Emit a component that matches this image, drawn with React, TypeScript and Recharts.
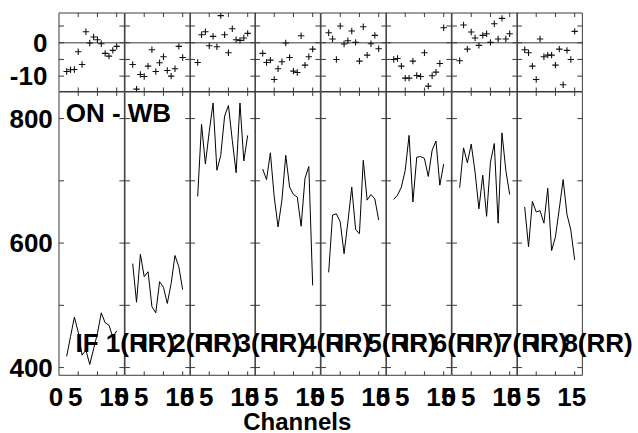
import { ComposedChart, Line, Scatter, XAxis, YAxis, ReferenceLine } from "recharts"

// channel numbers shared by every IF
const channels = [2, 3, 4, 5, 6, 7, 8, 9, 10, 11, 12, 13, 14, 15]

const ifNames = ["IF 1(RR)", "IF 2(RR)", "IF 3(RR)", "IF 4(RR)", "IF 5(RR)", "IF 6(RR)", "IF 7(RR)", "IF 8(RR)"]

// ON - WB spectra (lower panels)
const specIF1 = [418, 450, 481, 457, 420, 428, 405, 430, 455, 488, 472, 468, 449, 459]
const specIF2 = [567, 505, 582, 546, 554, 498, 488, 538, 529, 503, 535, 580, 562, 525]
const specIF3 = [675, 791, 727, 779, 825, 717, 741, 804, 821, 765, 713, 825, 732, 773]
const specIF4 = [719, 702, 745, 674, 626, 669, 741, 690, 678, 674, 627, 704, 723, 532]
const specIF5 = [553, 645, 647, 634, 583, 634, 690, 622, 615, 733, 669, 678, 671, 637]
const specIF6 = [670, 677, 690, 717, 773, 666, 738, 739, 736, 707, 749, 764, 693, 727]
const specIF7 = [689, 753, 729, 759, 714, 655, 709, 643, 730, 760, 632, 777, 717, 678]
const specIF8 = [658, 594, 667, 650, 652, 632, 688, 588, 610, 655, 702, 646, 621, 573]

// residuals (upper panels)
const residIF1 = [-8.6, -8.1, -8.0, -2.7, -6.5, 3.3, -0.1, 1.7, 0.9, -0.3, -3.2, -4.0, -2.3, -1.1]
const residIF2 = [-6.5, -13.9, -9.5, -10.1, -7.0, -2.1, -8.6, -6.0, -4.2, -8.3, -10.0, -7.8, -1.1, -4.4]
const residIF3 = [-5.9, 2.4, 3.3, -0.9, 1.9, -1.2, 8.1, 2.4, -3.0, 4.2, 0.9, 0.7, 1.4, 2.8]
const residIF4 = [-3.2, -5.9, -5.2, -11.0, -7.8, -5.7, -0.1, -4.4, -8.5, -8.9, 2.1, -6.7, -4.2, -1.9]
const residIF5 = [3.0, 1.1, -5.0, 5.0, -0.4, 0.6, 3.5, 0.1, -5.5, 4.8, -3.7, -0.3, 2.2, -1.8]
const residIF6 = [-5.0, -4.7, -7.0, -10.6, -10.6, -5.5, -9.8, -10.1, -3.0, -13.0, -9.9, -8.8, -6.2, 4.5]
const residIF7 = [-5.4, 5.3, -1.9, 3.2, 1.4, -0.8, 2.2, 2.7, 0.1, 5.7, 1.1, 7.3, 1.1, 2.7]
const residIF8 = [-2.1, -3.0, -7.0, -11.0, 1.1, -4.2, -3.7, -3.7, -6.7, -1.9, -12.6, -2.3, -5.0, 3.4]

const spectra = [specIF1, specIF2, specIF3, specIF4, specIF5, specIF6, specIF7, specIF8]
const residuals = [residIF1, residIF2, residIF3, residIF4, residIF5, residIF6, residIF7, residIF8]

const xTicks = [0, 5, 10, 15]
const xTickLabels = ["0", "5", "", "15"]
const specTicks = [400, 500, 600, 700, 800]
const specTickLabels = ["400", "", "600", "", "800"]
const residTicks = [-10, -5, 0, 5]
const residTickLabels = ["-10", "", "0", ""]

const xDomain = [0, 17]
const specDomain = [387.6, 842.7]
const residDomain = [-14.6, 8.9]

// layout
const PLOT_LEFT = 59.3
const PANEL_W = 65.37
const TOP_Y = 13.2
const MID_Y = 91.7
const BOT_Y = 375
const PAD = 60

const FONT = "'Liberation Sans', Arial, Helvetica, sans-serif"
const FRAME = "#3a3a3a"
const labelStyle = { fontFamily: FONT, fontWeight: 700, fontSize: 26, fill: "#000" }

const xTick = (side: "top" | "bottom", withLabels: boolean) => (p: any) => {
  const { x, y, payload } = p
  const v = payload.value
  const dir = side === "bottom" ? -1 : 1
  const label = withLabels ? xTickLabels[xTicks.indexOf(v)] : ""
  return (
    <g>
      {v !== 0 && <line x1={x} x2={x} y1={y} y2={y + dir * 4} stroke={FRAME} />}
      {label && (
        <text x={x - 3} y={y + 30.7} textAnchor="middle" fontWeight="bold" style={labelStyle}>
          {label}
        </text>
      )}
    </g>
  )
}

const yTick = (side: "left" | "right", ticks: number[], labels: string[] | null, gap: number) => (p: any) => {
  const { x, y, payload } = p
  const dir = side === "left" ? 1 : -1
  const label = labels ? labels[ticks.indexOf(payload.value)] : ""
  return (
    <g>
      <line x1={x} x2={x + dir * 5} y1={y} y2={y} stroke={FRAME} />
      {label && (
        <text x={x - gap} y={y} dy="0.36em" textAnchor="end" fontWeight="bold" style={labelStyle}>
          {label}
        </text>
      )}
    </g>
  )
}

const plus = (p: any) => (
  <path
    d={`M${p.cx - 3.2},${p.cy}h6.4M${p.cx},${p.cy - 3.2}v6.4`}
    stroke="#111"
    strokeWidth={1.1}
    fill="none"
  />
)

const frame = { stroke: FRAME, strokeWidth: 1 }

// axes need a non-zero size to be drawn; 1px each, taken out of the margins
function frameAxes(i: number, ticks: number[], labels: string[], domain: number[], gap: number, showX: boolean) {
  return [
    <XAxis
      key="xb"
      xAxisId="b"
      dataKey="ch"
      type="number"
      domain={xDomain}
      allowDataOverflow
      ticks={xTicks}
      interval={0}
      height={1}
      tickSize={0}
      tickMargin={0}
      axisLine={frame}
      tickLine={false}
      tick={xTick("bottom", showX)}
    />,
    <XAxis
      key="xt"
      xAxisId="t"
      orientation="top"
      dataKey="ch"
      type="number"
      domain={xDomain}
      allowDataOverflow
      ticks={xTicks}
      interval={0}
      height={1}
      tickSize={0}
      tickMargin={0}
      axisLine={frame}
      tickLine={false}
      tick={xTick("top", false)}
    />,
    <YAxis
      key="yl"
      yAxisId="l"
      dataKey="v"
      type="number"
      domain={domain}
      allowDataOverflow
      ticks={ticks}
      interval={0}
      width={1}
      tickSize={0}
      tickMargin={0}
      axisLine={frame}
      tickLine={false}
      tick={yTick("left", ticks, i === 0 ? labels : null, gap)}
    />,
    <YAxis
      key="yr"
      yAxisId="r"
      orientation="right"
      type="number"
      domain={domain}
      allowDataOverflow
      ticks={ticks}
      interval={0}
      width={1}
      tickSize={0}
      tickMargin={0}
      axisLine={frame}
      tickLine={false}
      tick={yTick("right", ticks, null, 0)}
    />,
  ]
}

function ResidualPanel({ i }: { i: number }) {
  const data = channels.map((ch, j) => ({ ch, v: residuals[i][j] }))
  const h = MID_Y - TOP_Y
  return (
    <div style={{ position: "absolute", left: PLOT_LEFT + i * PANEL_W - PAD, top: TOP_Y - 5 }}>
      <ComposedChart
        width={PANEL_W + 2 * PAD}
        height={h + 10}
        data={data}
        margin={{ top: 4, right: PAD - 1, bottom: 4, left: PAD - 1 }}
      >
        {frameAxes(i, residTicks, residTickLabels, residDomain, 11.6, false)}
        <ReferenceLine xAxisId="b" yAxisId="l" y={0} stroke="#7a7a7a" strokeWidth={1.5} />
        <Scatter xAxisId="b" yAxisId="l" dataKey="v" shape={plus} isAnimationActive={false} />
      </ComposedChart>
    </div>
  )
}

function SpectrumPanel({ i }: { i: number }) {
  const data = channels.map((ch, j) => ({ ch, v: spectra[i][j] }))
  const h = BOT_Y - MID_Y
  return (
    <div style={{ position: "absolute", left: PLOT_LEFT + i * PANEL_W - PAD, top: MID_Y - 5 }}>
      <ComposedChart
        width={PANEL_W + 2 * PAD}
        height={h + 50}
        data={data}
        margin={{ top: 4, right: PAD - 1, bottom: 44, left: PAD - 1 }}
      >
        {frameAxes(i, specTicks, specTickLabels, specDomain, 6.2, true)}
        <Line
          xAxisId="b"
          yAxisId="l"
          dataKey="v"
          stroke="#000"
          strokeWidth={1}
          dot={false}
          isAnimationActive={false}
        />
      </ComposedChart>
    </div>
  )
}

export default function App() {
  return (
    <div style={{ position: "absolute", left: 0, top: 0, width: 638, height: 433, background: "#fff" }}>
      {ifNames.map((_, i) => (
        <ResidualPanel key={"r" + i} i={i} />
      ))}
      {ifNames.map((_, i) => (
        <SpectrumPanel key={"s" + i} i={i} />
      ))}
      <svg
        width={638}
        height={433}
        style={{ position: "absolute", left: 0, top: 0, pointerEvents: "none" }}
      >
        <text x={65.7} y={121.7} style={labelStyle}>
          ON - WB
        </text>
        {ifNames.map((name, i) => (
          <text key={name} x={75.5 + i * PANEL_W} y={351.7} style={labelStyle}>
            {name}
          </text>
        ))}
        <text x={297.3} y={429.5} textAnchor="middle" style={{ ...labelStyle, fontSize: 24 }}>
          Channels
        </text>
      </svg>
    </div>
  )
}
